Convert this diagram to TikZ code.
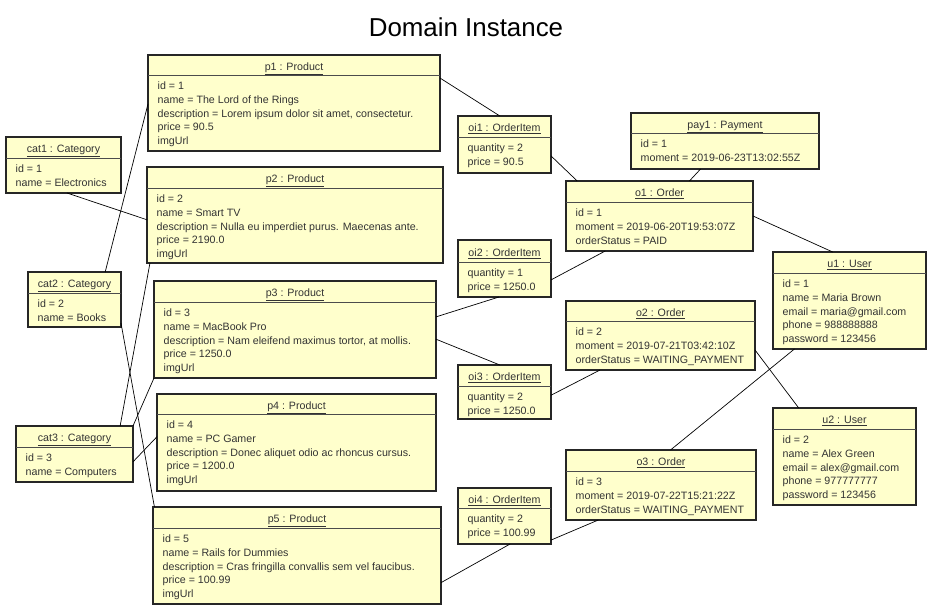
\documentclass[tikz,border=0pt]{standalone}
\usepackage{fontspec}
\setmainfont{Liberation Sans}
\usetikzlibrary{calc}
\definecolor{objfill}{RGB}{255,255,204}
\tikzset{
 objbox/.style={draw=black!85, line width=1.6bp, fill=objfill, inner sep=0pt, outer sep=0pt, rectangle},
 sepline/.style={draw=black!70, line width=0.8bp},
 headtext/.style={inner sep=0pt, anchor=base, font=\fontsize{10.7}{13.7}\selectfont, text=black!80},
 bodytext/.style={inner sep=0pt, align=left, anchor=north west, font=\fontsize{10.7}{13.7}\selectfont, text=black!80},
 link/.style={draw=black, line width=0.7bp},
 titletext/.style={inner sep=0pt, font=\fontsize{26}{30}\selectfont},
}
\newcommand{\umlobj}[8]{%
 \node[objbox, minimum width={(#4-#2)*1bp}, minimum height={(#5-#3)*1bp}] (#1) at ({(#2+#4)/2},{(#3+#5)/2}) {};
 \draw[sepline] (#1.west |- 0,#6) -- (#1.east |- 0,#6);
 \node[headtext] (#1-t) at ({(#2+#4)/2},{(#3+#6)/2+5.3}) {\underline{#7}};
 \node[bodytext] (#1-b) at (#2+9.5,#6+7) {#8};
}
\newcommand{\Np}[2]{($(#1.north west)!#2!(#1.north east)$)}
\newcommand{\Sp}[2]{($(#1.south west)!#2!(#1.south east)$)}
\newcommand{\Ep}[2]{($(#1.north east)!#2!(#1.south east)$)}
\newcommand{\Wp}[2]{($(#1.north west)!#2!(#1.south west)$)}
\begin{document}
\begin{tikzpicture}[x=1bp,y=-1bp]
\useasboundingbox[fill=white] (0,0) rectangle (930,616);
\node[titletext] (title) at (466,27) {Domain Instance};

\umlobj{cat1}{6}{137}{121}{193}{158}{cat1 : Category}{id = 1\\name = Electronics}
\umlobj{cat2}{28}{272}{121}{327}{293}{cat2 : Category}{id = 2\\name = Books}
\umlobj{cat3}{16}{426}{133}{482}{447}{cat3 : Category}{id = 3\\name = Computers}
\umlobj{p1}{148}{55}{440}{151}{75}{p1 : Product}{id = 1\\name = The Lord of the Rings\\description = Lorem ipsum dolor sit amet, consectetur.\\price = 90.5\\imgUrl}
\umlobj{p2}{147}{167}{443}{263}{188}{p2 : Product}{id = 2\\name = Smart TV\\description = Nulla eu imperdiet purus. Maecenas ante.\\price = 2190.0\\imgUrl}
\umlobj{p3}{154}{281}{436}{378}{302}{p3 : Product}{id = 3\\name = MacBook Pro\\description = Nam eleifend maximus tortor, at mollis.\\price = 1250.0\\imgUrl}
\umlobj{p4}{157}{394}{436}{491}{414}{p4 : Product}{id = 4\\name = PC Gamer\\description = Donec aliquet odio ac rhoncus cursus.\\price = 1200.0\\imgUrl}
\umlobj{p5}{153}{507}{441}{604}{528}{p5 : Product}{id = 5\\name = Rails for Dummies\\description = Cras fringilla convallis sem vel faucibus.\\price = 100.99\\imgUrl}
\umlobj{oi1}{458}{116}{551}{173}{137}{oi1 : OrderItem}{quantity = 2\\price = 90.5}
\umlobj{oi2}{458}{240}{551}{297}{262}{oi2 : OrderItem}{quantity = 1\\price = 1250.0}
\umlobj{oi3}{458}{365}{551}{419}{386}{oi3 : OrderItem}{quantity = 2\\price = 1250.0}
\umlobj{oi4}{458}{488}{551}{544}{508}{oi4 : OrderItem}{quantity = 2\\price = 100.99}
\umlobj{pay1}{631}{113}{819}{169}{133}{pay1 : Payment}{id = 1\\moment = 2019-06-23T13:02:55Z}
\umlobj{o1}{566}{181}{753}{251}{202}{o1 : Order}{id = 1\\moment = 2019-06-20T19:53:07Z\\orderStatus = PAID}
\umlobj{o2}{566}{301}{755}{370}{321}{o2 : Order}{id = 2\\moment = 2019-07-21T03:42:10Z\\orderStatus = WAITING\_PAYMENT}
\umlobj{o3}{566}{450}{756}{520}{471}{o3 : Order}{id = 3\\moment = 2019-07-22T15:21:22Z\\orderStatus = WAITING\_PAYMENT}
\umlobj{u1}{773}{252}{926}{349}{273}{u1 : User}{id = 1\\name = Maria Brown\\email = maria@gmail.com\\phone = 988888888\\password = 123456}
\umlobj{u2}{773}{408}{916}{505}{429}{u2 : User}{id = 2\\name = Alex Green\\email = alex@gmail.com\\phone = 977777777\\password = 123456}

\draw[link] \Ep{p1}{0.24} -- \Np{oi1}{0.45};
\draw[link] \Ep{oi1}{0.70} -- \Np{o1}{0.06};
\draw[link] \Sp{pay1}{0.37} -- \Np{o1}{0.66};
\draw[link] \Ep{o1}{0.5} -- \Np{u1}{0.39};
\draw[link] \Ep{oi2}{0.70} -- \Sp{o1}{0.21};
\draw[link] \Ep{p3}{0.37} -- \Sp{oi2}{0.44};
\draw[link] \Ep{p3}{0.60} -- \Np{oi3}{0.45};
\draw[link] \Ep{oi3}{0.56} -- \Sp{o2}{0.18};
\draw[link] \Ep{o2}{0.71} -- \Np{u2}{0.18};
\draw[link] \Sp{u1}{0.14} -- \Np{o3}{0.55};
\draw[link] \Ep{oi4}{0.93} -- \Sp{o3}{0.17};
\draw[link] \Ep{p5}{0.78} -- \Sp{oi4}{0.56};
\draw[link] \Sp{cat1}{0.53} -- \Wp{p2}{0.55};
\draw[link] \Np{cat2}{0.83} -- \Wp{p1}{0.51};
\draw[link] \Ep{cat2}{0.93} -- \Np{p5}{0.005};
\draw[link] \Np{cat3}{0.89} -- \Sp{p2}{0.01};
\draw[link] (cat3.north east) -- (p3.south west);
\draw[link] \Ep{cat3}{0.64} -- \Wp{p4}{0.44};
\end{tikzpicture}
\end{document}
